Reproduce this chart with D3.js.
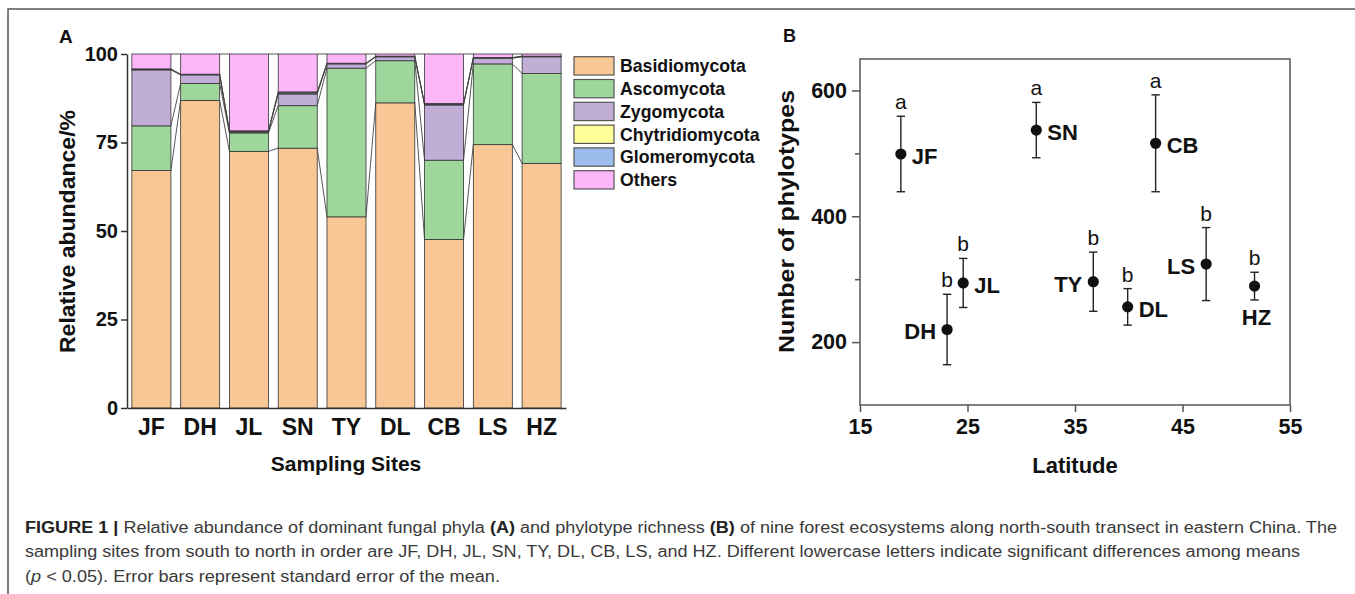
<!DOCTYPE html>
<html lang="en">
<head>
<meta charset="UTF-8">
<title>Fungal phyla and phylotype richness</title>
<script src="https://d3js.org/d3.v7.min.js"></script>
<style>
    body { margin: 0; background: #fff; }
    text { font-family: "Liberation Sans", Arial, sans-serif; fill: #111; }
</style>
</head>
<body>
<svg></svg>
<script>
    // panel A: relative abundance (%) of each phylum per site
    const sites = ["JF", "DH", "JL", "SN", "TY", "DL", "CB", "LS", "HZ"];
    const phyla = ["Basidiomycota", "Ascomycota", "Zygomycota", "Chytridiomycota", "Glomeromycota", "Others"];
    const basidiomycota = [67.1, 86.9, 72.5, 73.4, 54.0, 86.2, 47.6, 74.4, 69.1];
    const ascomycota = [12.6, 4.8, 5.2, 12.0, 42.0, 11.9, 22.4, 22.8, 25.4];
    const zygomycota = [15.8, 2.4, 0.3, 3.3, 1.2, 1.1, 15.6, 1.6, 4.7];
    const chytridiomycota = [0.2, 0.1, 0.2, 0.3, 0.1, 0.1, 0.2, 0.1, 0.1];
    const glomeromycota = [0.1, 0.1, 0.1, 0.3, 0.1, 0.1, 0.2, 0.1, 0.1];
    const others = [4.2, 5.7, 21.7, 10.7, 2.6, 0.6, 14.0, 1.0, 0.6];
    const abundanceTicks = [0, 25, 50, 75, 100];

    // panel B: phylotype richness against latitude
    const latitude = [18.8, 23.1, 24.6, 31.4, 36.7, 39.9, 42.5, 47.2, 51.7];
    const phylotypes = [499, 220, 294, 537, 296, 256, 516, 324, 289];
    const phylotypesSE = [60, 56, 39, 44, 47, 29, 77, 58, 22];
    const groupLetters = ["a", "b", "b", "a", "b", "b", "a", "b", "b"];
    const latitudeTicks = [15, 25, 35, 45, 55];
    const richnessTicks = [200, 400, 600];
    const richnessMinorTicks = [300, 500];

    const width = 1355, height = 594;
    const svg = d3.select("svg").attr("width", width).attr("height", height);

    // figure frame (left + top only)
    svg.append("path")
        .attr("d", "M8,594V9H1355")
        .attr("fill", "none")
        .attr("stroke", "#555")
        .attr("stroke-width", 1.5);

    // ---------- panel A ----------
    const colors = d3.scaleOrdinal()
        .domain(phyla)
        .range(["#f9c696", "#9ed69c", "#c1aed6", "#ffff99", "#9cbcee", "#fdb6fa"]);

    const series = [basidiomycota, ascomycota, zygomycota, chytridiomycota, glomeromycota, others];
    const rows = sites.map((s, i) => {
        let r = {site: s};
        phyla.forEach((p, j) => r[p] = series[j][i]);
        return r;
    });
    const stacked = d3.stack().keys(phyla)(rows);

    const xA = d3.scaleBand().domain(sites).range([127, 566])
        .paddingInner(0.2).paddingOuter(0.1);
    const yA = d3.scaleLinear().domain([0, 100]).range([408, 54]);
    const bw = xA.bandwidth();

    const gA = svg.append("g");

    // lines joining the layer boundaries of neighbouring bars
    stacked.forEach(layer => {
        for (let i = 0; i < sites.length - 1; i++) {
            gA.append("line")
                .attr("x1", xA(sites[i]) + bw)
                .attr("y1", yA(layer[i][1]))
                .attr("x2", xA(sites[i + 1]))
                .attr("y2", yA(layer[i + 1][1]))
                .attr("stroke", "#444")
                .attr("stroke-width", 0.9);
        }
    });

    gA.selectAll("g.layer")
        .data(stacked)
        .join("g")
        .attr("class", "layer")
        .attr("fill", d => colors(d.key))
        .selectAll("rect")
        .data(d => d)
        .join("rect")
        .attr("x", d => xA(d.data.site))
        .attr("y", d => yA(d[1]))
        .attr("width", bw)
        .attr("height", d => yA(d[0]) - yA(d[1]))
        .attr("stroke", "#333")
        .attr("stroke-width", 0.8);

    const axisA = gA.append("g")
        .attr("transform", "translate(127,0)")
        .call(d3.axisLeft(yA).tickValues(abundanceTicks).tickSize(6).tickSizeOuter(0).tickPadding(3));
    axisA.selectAll("text").style("font-size", "20px").style("font-weight", "bold");

    const axisAx = gA.append("g")
        .attr("transform", "translate(0,408)")
        .call(d3.axisBottom(xA).tickSize(0).tickSizeOuter(0).tickPadding(11));
    axisAx.selectAll("text").style("font-size", "23px").style("font-weight", "bold");

    [axisA, axisAx].forEach(a => {
        a.select(".domain").attr("stroke", "#333").attr("stroke-width", 1.5);
        a.selectAll(".tick line").attr("stroke", "#333").attr("stroke-width", 1.5);
        a.selectAll("text").attr("fill", "#111");
    });

    gA.append("text")
        .attr("transform", "translate(75,231.5) rotate(-90)")
        .attr("text-anchor", "middle")
        .attr("textLength", 243)
        .attr("lengthAdjust", "spacingAndGlyphs")
        .style("font-size", "22px").style("font-weight", "bold")
        .text("Relative abundance/%");

    gA.append("text")
        .attr("x", 346).attr("y", 471)
        .attr("text-anchor", "middle")
        .style("font-size", "21px").style("font-weight", "bold")
        .text("Sampling Sites");

    gA.append("text")
        .attr("x", 59).attr("y", 42.5)
        .style("font-size", "19px").style("font-weight", "bold")
        .text("A");

    // legend
    const legend = gA.selectAll("g.legend")
        .data(phyla)
        .join("g")
        .attr("class", "legend")
        .attr("transform", (d, i) => `translate(574,${56.7 + i * 22.8})`);
    legend.append("rect")
        .attr("width", 40).attr("height", 18.3)
        .attr("fill", d => colors(d))
        .attr("stroke", "#555").attr("stroke-width", 1.2);
    legend.append("text")
        .attr("x", 46).attr("y", 15.5)
        .style("font-size", "17.7px").style("font-weight", "bold")
        .text(d => d);

    // ---------- panel B ----------
    const xB = d3.scaleLinear().domain([15, 55]).range([860, 1290]);
    const yB = d3.scaleLinear().domain([100, 650]).range([405, 59]);
    const gB = svg.append("g");

    gB.append("rect")
        .attr("x", 860).attr("y", 59)
        .attr("width", 430).attr("height", 346)
        .attr("fill", "none")
        .attr("stroke", "#555").attr("stroke-width", 1.5);

    const axisBx = gB.append("g")
        .attr("transform", "translate(0,405)")
        .call(d3.axisBottom(xB).tickValues(latitudeTicks).tickSize(7).tickSizeOuter(0).tickPadding(7));
    const axisBy = gB.append("g")
        .attr("transform", "translate(860,0)")
        .call(d3.axisLeft(yB).tickValues(richnessTicks).tickSize(8).tickSizeOuter(0).tickPadding(5));
    const axisByMinor = gB.append("g")
        .attr("transform", "translate(860,0)")
        .call(d3.axisLeft(yB).tickValues(richnessMinorTicks).tickSize(5).tickSizeOuter(0).tickFormat(""));

    [axisBx, axisBy, axisByMinor].forEach(a => {
        a.select(".domain").remove();
        a.selectAll(".tick line").attr("stroke", "#555").attr("stroke-width", 1.5);
        a.selectAll("text").attr("fill", "#111")
            .style("font-size", "21.5px").style("font-weight", "bold");
    });

    const points = sites.map((s, i) => ({
        site: s, lat: latitude[i], mean: phylotypes[i], se: phylotypesSE[i], letter: groupLetters[i]
    }));

    const cap = 4.2;
    const pg = gB.selectAll("g.pt")
        .data(points)
        .join("g")
        .attr("class", "pt");

    pg.append("line")
        .attr("x1", d => xB(d.lat)).attr("x2", d => xB(d.lat))
        .attr("y1", d => yB(d.mean - d.se)).attr("y2", d => yB(d.mean + d.se))
        .attr("stroke", "#222").attr("stroke-width", 1.4);
    pg.append("line")
        .attr("x1", d => xB(d.lat) - cap).attr("x2", d => xB(d.lat) + cap)
        .attr("y1", d => yB(d.mean + d.se)).attr("y2", d => yB(d.mean + d.se))
        .attr("stroke", "#222").attr("stroke-width", 1.4);
    pg.append("line")
        .attr("x1", d => xB(d.lat) - cap).attr("x2", d => xB(d.lat) + cap)
        .attr("y1", d => yB(d.mean - d.se)).attr("y2", d => yB(d.mean - d.se))
        .attr("stroke", "#222").attr("stroke-width", 1.4);
    pg.append("circle")
        .attr("cx", d => xB(d.lat)).attr("cy", d => yB(d.mean))
        .attr("r", 5.6)
        .attr("fill", "#111");

    pg.append("text")
        .attr("x", d => xB(d.lat))
        .attr("y", d => yB(d.mean + d.se) - 7)
        .attr("text-anchor", "middle")
        .style("font-size", "21px")
        .text(d => d.letter);

    // where each site name sits relative to its point
    const labelSide = {JF: "right", DH: "left", JL: "right", SN: "right", TY: "left",
        DL: "right", CB: "right", LS: "left", HZ: "below"};
    pg.append("text")
        .attr("x", d => {
            const side = labelSide[d.site];
            if (side === "right") return xB(d.lat) + 11;
            if (side === "left") return xB(d.lat) - 11;
            return xB(d.lat) + 2;
        })
        .attr("y", d => labelSide[d.site] === "below" ? yB(d.mean - d.se) + 17 : yB(d.mean) + 2)
        .attr("dy", "0.36em")
        .attr("text-anchor", d => {
            const side = labelSide[d.site];
            return side === "right" ? "start" : side === "left" ? "end" : "middle";
        })
        .style("font-size", "22px").style("font-weight", "bold")
        .text(d => d.site);

    gB.append("text")
        .attr("transform", "translate(794,221.5) rotate(-90)")
        .attr("text-anchor", "middle")
        .attr("textLength", 263)
        .attr("lengthAdjust", "spacingAndGlyphs")
        .style("font-size", "22px").style("font-weight", "bold")
        .text("Number of phylotypes");

    gB.append("text")
        .attr("x", 1075).attr("y", 473)
        .attr("text-anchor", "middle")
        .style("font-size", "22px").style("font-weight", "bold")
        .text("Latitude");

    gB.append("text")
        .attr("x", 783).attr("y", 42)
        .style("font-size", "18px").style("font-weight", "bold")
        .text("B");

    // ---------- caption ----------
    const captionLines = [
        [["FIGURE 1 |", "b"], [" Relative abundance of dominant fungal phyla ", ""], ["(A)", "b"],
            [" and phylotype richness ", ""], ["(B)", "b"],
            [" of nine forest ecosystems along north-south transect in eastern China. The", ""]],
        [["sampling sites from south to north in order are JF, DH, JL, SN, TY, DL, CB, LS, and HZ. Different lowercase letters indicate significant differences among means", ""]],
        [["(", ""], ["p", "i"], [" < 0.05). Error bars represent standard error of the mean.", ""]]
    ];
    const captionLengths = [1312, 1275, 475];
    const captionBase = [533, 557, 582];

    captionLines.forEach((parts, li) => {
        const t = svg.append("text")
            .attr("x", 25).attr("y", captionBase[li])
            .attr("textLength", captionLengths[li])
            .attr("lengthAdjust", "spacingAndGlyphs")
            .style("font-size", "16px");
        parts.forEach(([str, st]) => {
            t.append("tspan")
                .attr("fill", st === "b" ? "#222" : "#3a3a3a")
                .style("font-weight", st === "b" ? "bold" : "normal")
                .style("font-style", st === "i" ? "italic" : "normal")
                .text(str);
        });
    });
</script>
</body>
</html>
